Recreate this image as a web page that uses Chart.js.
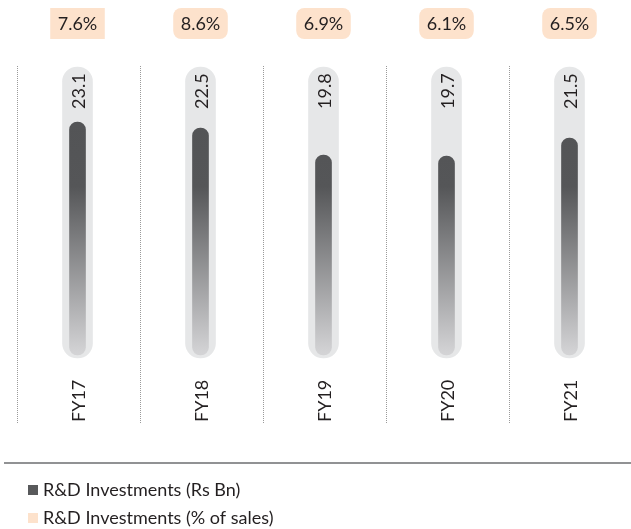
<!DOCTYPE html>
<html>
<head>
<meta charset="utf-8">
<script src="https://cdn.jsdelivr.net/npm/chart.js@4.4.1/dist/chart.umd.min.js"></script>
<style>
  html, body { margin: 0; padding: 0; background: #fff; }
  #wrap { width: 631px; height: 529px; position: relative; }
</style>
</head>
<body>
<div id="wrap"><canvas id="rdChart"></canvas></div>
<script>
// dados
const categorias = ['FY17', 'FY18', 'FY19', 'FY20', 'FY21'];
const investimentos = [23.1, 22.5, 19.8, 19.7, 21.5];
const percentVendas = ['7.6%', '8.6%', '6.9%', '6.1%', '6.5%'];
const legendas = ['R&D Investments (Rs Bn)', 'R&D Investments (% of sales)'];

const FONTE = 'Lato, "Open Sans", sans-serif';
const TRILHO_TOPO = 28.6;

// gradiente da barra interna
function gradienteBarra(context) {
    const chart = context.chart;
    const area = chart.chartArea;
    if (!area) return '#555759';
    const y = chart.scales.y;
    const topo = y.getPixelForValue(23.1);
    const base = y.getPixelForValue(0);
    const g = chart.ctx.createLinearGradient(0, topo, 0, base);
    g.addColorStop(0, '#535456');
    g.addColorStop(0.28, '#555658');
    g.addColorStop(1, '#d3d3d5');
    return g;
}

// plugin para textos, linhas pontilhadas e legenda
const extras = {
    id: 'extras',
    beforeDatasetsDraw(chart) {
        const { ctx, chartArea } = chart;
        const larg = (chartArea.right - chartArea.left) / categorias.length;
        ctx.save();
        ctx.strokeStyle = '#9a9a9a';
        ctx.lineWidth = 1;
        ctx.setLineDash([1, 1]);
        categorias.forEach((c, i) => {
            const x = Math.round(chartArea.left + i * larg + 1) + 0.5;
            ctx.beginPath();
            ctx.moveTo(x, 66);
            ctx.lineTo(x, 424);
            ctx.stroke();
        });
        ctx.restore();
    },
    afterDatasetsDraw(chart) {
        const { ctx, scales } = chart;
        ctx.save();
        ctx.font = '18px ' + FONTE;
        ctx.fillStyle = '#231f20';
        categorias.forEach((c, i) => {
            const cx = scales.x.getPixelForValue(i);

            // caixa de percentual
            const txt = percentVendas[i];
            const w = ctx.measureText(txt).width + 15;
            ctx.fillStyle = '#fde2cc';
            ctx.beginPath();
            if (i === 0) ctx.rect(cx - w / 2, 8, w, 31);
            else ctx.roundRect(cx - w / 2, 8, w, 31, 8);
            ctx.fill();
            ctx.fillStyle = '#231f20';
            ctx.textAlign = 'center';
            ctx.textBaseline = 'middle';
            ctx.fillText(txt, cx, 24);

            // valor rotacionado
            ctx.save();
            ctx.translate(cx + 7, 109);
            ctx.rotate(-Math.PI / 2);
            ctx.textAlign = 'left';
            ctx.textBaseline = 'alphabetic';
            ctx.fillText(investimentos[i].toFixed(1), 0, 0);
            ctx.restore();

            // categoria rotacionada
            ctx.save();
            ctx.translate(cx + 7, 422);
            ctx.rotate(-Math.PI / 2);
            ctx.textAlign = 'left';
            ctx.textBaseline = 'alphabetic';
            ctx.fillText(c, 0, 0);
            ctx.restore();
        });

        // linha horizontal
        ctx.strokeStyle = '#6d6e70';
        ctx.lineWidth = 1.5;
        ctx.beginPath();
        ctx.moveTo(4, 463);
        ctx.lineTo(631, 463);
        ctx.stroke();

        // legenda
        const cores = ['#58595b', '#fde2cc'];
        ctx.font = '18px ' + FONTE;
        ctx.textAlign = 'left';
        ctx.textBaseline = 'middle';
        legendas.forEach((l, i) => {
            const y = 490 + i * 28;
            ctx.fillStyle = cores[i];
            ctx.fillRect(28, y - 5, 10, 10);
            ctx.fillStyle = '#231f20';
            ctx.fillText(l, 43, y);
        });
        ctx.restore();
    }
};

const ctxRD = document.getElementById('rdChart').getContext('2d');
new Chart(ctxRD, {
    type: 'bar',
    data: {
        labels: categorias,
        datasets: [{
            label: 'trilho',
            data: investimentos.map(() => [-0.5, TRILHO_TOPO]),
            backgroundColor: '#e6e7e8',
            barThickness: 30,
            borderRadius: 15,
            borderSkipped: false,
            grouped: false,
            order: 2
        }, {
            label: legendas[0],
            data: investimentos.map(v => [-0.2, v]),
            backgroundColor: gradienteBarra,
            barThickness: 16,
            borderRadius: 8,
            borderSkipped: false,
            grouped: false,
            order: 1
        }]
    },
    options: {
        responsive: true,
        maintainAspectRatio: false,
        animation: false,
        layout: { padding: { left: 16, right: 0, top: 53, bottom: 166 } },
        plugins: {
            legend: { display: false },
            tooltip: { enabled: false }
        },
        scales: {
            x: { display: false },
            y: { display: false, min: -1, max: 30 }
        }
    },
    plugins: [extras]
});
</script>
</body>
</html>
